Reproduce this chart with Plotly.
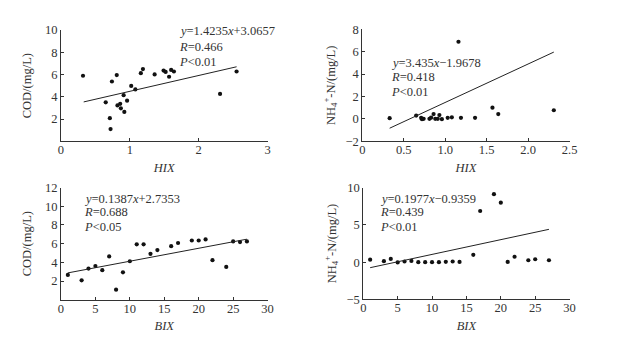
import plotly.graph_objects as go

# Panel 1: HIX vs COD
hix1 = [0.32, 0.81, 0.74, 0.65, 0.71, 0.72, 0.82, 0.86, 0.87, 0.92, 0.91, 0.96, 1.02, 1.08,
        1.16, 1.19, 1.36, 1.49, 1.52, 1.57, 1.60, 1.64, 2.31, 2.55]
cod1 = [5.89, 5.95, 5.37, 3.50, 2.07, 1.09, 3.22, 3.36, 2.96, 2.64, 4.14, 3.65, 4.97, 4.66,
        6.12, 6.49, 6.01, 6.35, 6.23, 5.80, 6.41, 6.27, 4.25, 6.27]
fit1 = (1.4235, 3.0657)
fit1_x = [0.33, 2.55]

# Panel 2: HIX vs NH4+-N
hix2 = [0.33, 0.65, 0.71, 0.72, 0.74, 0.81, 0.83, 0.86, 0.88, 0.91, 0.93, 0.96, 1.03, 1.08,
        1.16, 1.19, 1.36, 1.57, 1.64, 2.31]
nh2 = [0.06, 0.29, 0.09, -0.03, 0.0, 0.0, 0.11, 0.43, 0.0, 0.0, 0.34, -0.03, 0.09, 0.14,
       6.89, 0.09, 0.09, 1.0, 0.43, 0.77]
fit2 = (3.435, -1.9678)
fit2_x = [0.33, 2.31]

# Panel 3: BIX vs COD
bix3 = [1, 3, 4, 5, 6, 7, 8, 9, 10, 11, 12, 13, 14, 16, 17, 19, 20, 21, 22, 24, 25, 26, 27]
cod3 = [2.66, 2.08, 3.34, 3.61, 3.17, 4.64, 1.08, 2.93, 4.12, 5.93, 5.93, 4.91, 5.32, 5.73,
        6.07, 6.34, 6.34, 6.45, 4.23, 3.51, 6.24, 6.17, 6.24]
fit3 = (0.1387, 2.7353)
fit3_x = [1, 27]

# Panel 4: BIX vs NH4+-N
bix4 = [1, 3, 4, 5, 6, 7, 8, 9, 10, 11, 12, 13, 14, 16, 17, 19, 20, 21, 22, 24, 25, 27]
nh4 = [0.34, 0.13, 0.43, -0.04, 0.09, 0.17, 0.0, 0.0, 0.0, 0.0, 0.05, 0.09, 0.03, 0.99,
       6.86, 9.12, 7.97, 0.04, 0.73, 0.26, 0.39, 0.26]
fit4 = (0.1977, -0.9359)
fit4_x = [1, 27]

texts = [
    ["<i>y</i>=1.4235<i>x</i>+3.0657", "<i>R</i>=0.466", "<i>P</i><0.01"],
    ["<i>y</i>=3.435<i>x</i>−1.9678", "<i>R</i>=0.418", "<i>P</i><0.01"],
    ["<i>y</i>=0.1387<i>x</i>+2.7353", "<i>R</i>=0.688", "<i>P</i><0.05"],
    ["<i>y</i>=0.1977<i>x</i>−0.9359", "<i>R</i>=0.439", "<i>P</i><0.01"],
]

W, H = 627, 341
FONT = "Liberation Serif, Times New Roman, serif"
TXT = "#333333"
LINE = "#333333"

fig = go.Figure()

panels = [
    dict(x=hix1, y=cod1, fit=fit1, fx=fit1_x, xd=(59, 269.3), yd=(24, 140), xr=[0, 3], yr=[0, 10],
         xt=[0, 1, 2, 3], xtl=["0", "1", "2", "3"], yt=[2, 4, 6, 8, 10],
         xtitle="<i>HIX</i>", ytitle="COD/(mg/L)", ys=10, tx=176.7, ty=[25, 41.5, 57]),
    dict(x=hix2, y=nh2, fit=fit2, fx=fit2_x, xd=(365.7, 576.7), yd=(23.3, 140), xr=[0, 2.5], yr=[-2, 8],
         xt=[0, 0.5, 1.0, 1.5, 2.0, 2.5], xtl=["0", "0.5", "1.0", "1.5", "2.0", "2.5"],
         yt=[-2, 0, 2, 4, 6, 8],
         xtitle="<i>HIX</i>", ytitle="NH<sub>4</sub><sup>+</sup>-N/(mg/L)", ys=7, tx=393.3, ty=[58, 73, 88.5]),
    dict(x=bix3, y=cod3, fit=fit3, fx=fit3_x, xd=(59, 269.3), yd=(188.3, 305.3), xr=[0, 30], yr=[0, 12],
         xt=[0, 5, 10, 15, 20, 25, 30], xtl=["0", "5", "10", "15", "20", "25", "30"],
         yt=[2, 4, 6, 8, 10, 12],
         xtitle="<i>BIX</i>", ytitle="COD/(mg/L)", ys=10, tx=80, ty=[200, 214, 229]),
    dict(x=bix4, y=nh4, fit=fit4, fx=fit4_x, xd=(366.7, 576.7), yd=(188.3, 305), xr=[0, 30], yr=[-5, 10],
         xt=[0, 5, 10, 15, 20, 25, 30], xtl=["0", "5", "10", "15", "20", "25", "30"],
         yt=[-5, 0, 5, 10],
         xtitle="<i>BIX</i>", ytitle="NH<sub>4</sub><sup>+</sup>-N/(mg/L)", ys=7, tx=381.7, ty=[200, 214, 229]),
]

layout = {}
for i, p in enumerate(panels, start=1):
    xa = "x" if i == 1 else f"x{i}"
    ya = "y" if i == 1 else f"y{i}"
    fig.add_trace(go.Scatter(x=p["x"], y=p["y"], mode="markers", xaxis=xa, yaxis=ya,
                             marker=dict(color="#111111", size=4.2), showlegend=False,
                             cliponaxis=False))
    a, b = p["fit"]
    fy = [a * v + b for v in p["fx"]]
    fig.add_trace(go.Scatter(x=p["fx"], y=fy, mode="lines", xaxis=xa, yaxis=ya,
                             line=dict(color="#222222", width=1), showlegend=False))
    axis_common = dict(showline=True, linecolor=LINE, linewidth=1, ticks="inside", ticklen=3,
                       tickcolor=LINE, showgrid=False, zeroline=False,
                       tickfont=dict(family=FONT, size=12.5, color=TXT))
    layout[f"xaxis{'' if i == 1 else i}"] = dict(
        domain=[p["xd"][0] / W, p["xd"][1] / W], range=p["xr"], anchor=ya,
        tickvals=p["xt"], ticktext=p["xtl"], ticklabelstandoff=-3,
        title=dict(text=p["xtitle"], font=dict(family=FONT, size=12.5, color=TXT), standoff=6),
        **axis_common)
    layout[f"yaxis{'' if i == 1 else i}"] = dict(
        domain=[1 - p["yd"][1] / H, 1 - p["yd"][0] / H], range=p["yr"], anchor=xa,
        tickvals=p["yt"],
        title=dict(text=p["ytitle"], font=dict(family=FONT, size=12.5, color=TXT), standoff=p["ys"]),
        **axis_common)
    for t, yy in zip(texts[i - 1], p["ty"]):
        fig.add_annotation(x=p["tx"] / W, y=1 - yy / H, xref="paper", yref="paper", text=t,
                           showarrow=False, xanchor="left", yanchor="middle",
                           font=dict(family=FONT, size=12.5, color=TXT))

fig.update_layout(width=W, height=H, margin=dict(l=0, r=0, t=0, b=0),
                  paper_bgcolor="white", plot_bgcolor="white", **layout)
fig.write_html("out.html")
